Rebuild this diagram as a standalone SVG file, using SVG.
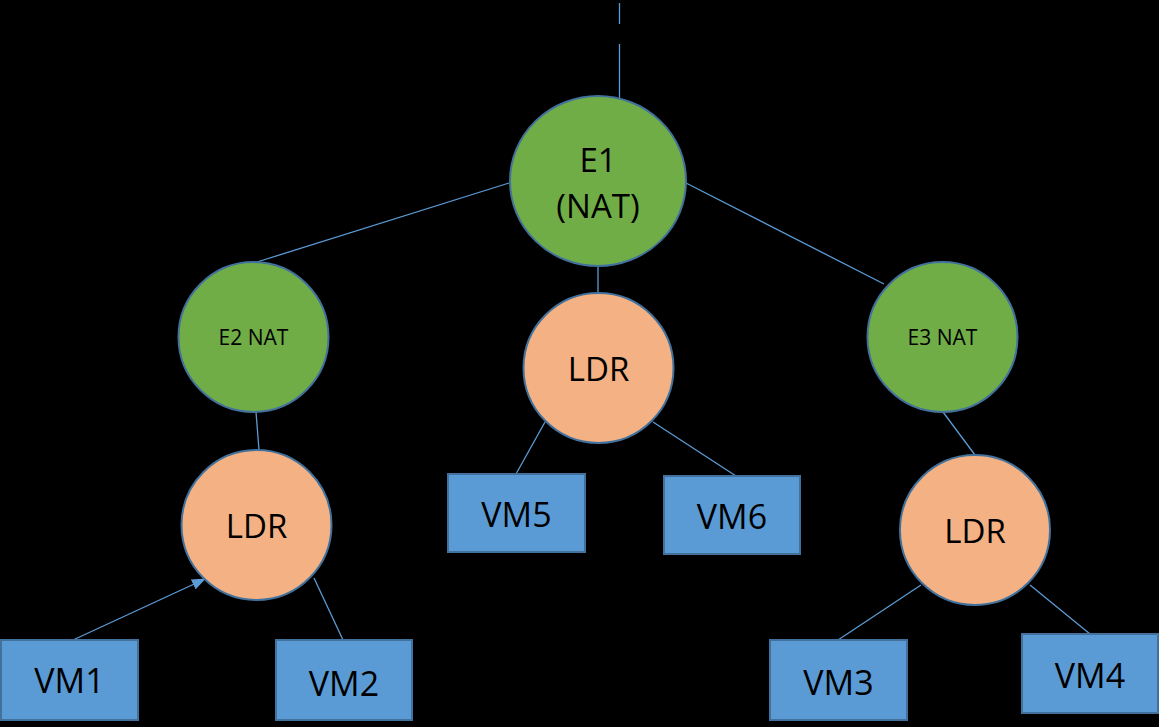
<svg xmlns="http://www.w3.org/2000/svg" width="1159" height="727" viewBox="0 0 1159 727">
<style>
.e{fill:#70AD47;stroke:#41719C;stroke-width:2}
.l{fill:#F4B183;stroke:#41719C;stroke-width:2}
.v{fill:#5B9BD5;stroke:#41719C;stroke-width:2}
.c line{stroke:#5B9BD5;stroke-width:1.3}
text{font-family:"Open Sans","Liberation Sans",sans-serif;fill:#000;text-anchor:middle}
.t{font-size:33px}
.m{font-size:34px}
.s{font-size:21px}
</style>
<defs>
<marker id="ah" markerWidth="14" markerHeight="11" refX="13" refY="5.5" orient="auto" markerUnits="userSpaceOnUse" viewBox="0 0 14 11">
<path d="M0,0 L14,5.5 L0,11 Z" fill="#5B9BD5"/>
</marker>
</defs>
<rect width="1159" height="727" fill="#000"/>
<g id="connectors" class="c">
<line x1="619.5" y1="3" x2="619.5" y2="24"/>
<line x1="619.5" y1="44" x2="619.5" y2="98"/>
<line x1="509" y1="183" x2="257" y2="262"/>
<line x1="598" y1="266" x2="598" y2="293"/>
<line x1="686" y1="183" x2="884" y2="284"/>
<line x1="256" y1="412" x2="259" y2="450"/>
<line x1="545" y1="422" x2="516" y2="474"/>
<line x1="653" y1="422" x2="736" y2="476"/>
<line x1="943" y1="412" x2="975" y2="455"/>
<line x1="921" y1="585" x2="838" y2="640"/>
<line x1="1030" y1="585" x2="1090" y2="634"/>
<line x1="73" y1="640" x2="205" y2="579" marker-end="url(#ah)"/>
<line x1="314" y1="578" x2="343" y2="640"/>
</g>
<g id="E1"><ellipse class="e" cx="598" cy="181" rx="88" ry="85"/><text class="t" x="598" y="172">E1</text><text class="t" x="598" y="218">(NAT)</text></g>
<g id="E2"><circle class="e" cx="253.5" cy="337" r="75"/><text class="s" x="253.5" y="345">E2 NAT</text></g>
<g id="E3"><circle class="e" cx="942.5" cy="337" r="75"/><text class="s" x="942.5" y="345">E3 NAT</text></g>
<g id="LDR1"><circle class="l" cx="256.5" cy="525" r="75"/><text class="t" x="256.5" y="538">LDR</text></g>
<g id="LDR2"><circle class="l" cx="598.5" cy="368" r="75"/><text class="t" x="598.5" y="381">LDR</text></g>
<g id="LDR3"><circle class="l" cx="975" cy="530" r="75"/><text class="t" x="975" y="543">LDR</text></g>
<g id="VM1"><rect class="v" x="1" y="640" width="137" height="80"/><text class="m" x="69.5" y="693">VM1</text></g>
<g id="VM2"><rect class="v" x="276" y="640" width="136" height="80"/><text class="m" x="344" y="696">VM2</text></g>
<g id="VM5"><rect class="v" x="448" y="474" width="137" height="78"/><text class="m" x="516.5" y="527">VM5</text></g>
<g id="VM6"><rect class="v" x="664" y="476" width="136" height="78"/><text class="m" x="732" y="529">VM6</text></g>
<g id="VM3"><rect class="v" x="770" y="640" width="137" height="80"/><text class="m" x="838.5" y="695">VM3</text></g>
<g id="VM4"><rect class="v" x="1022" y="634" width="136" height="79"/><text class="m" x="1090" y="688">VM4</text></g>
</svg>
